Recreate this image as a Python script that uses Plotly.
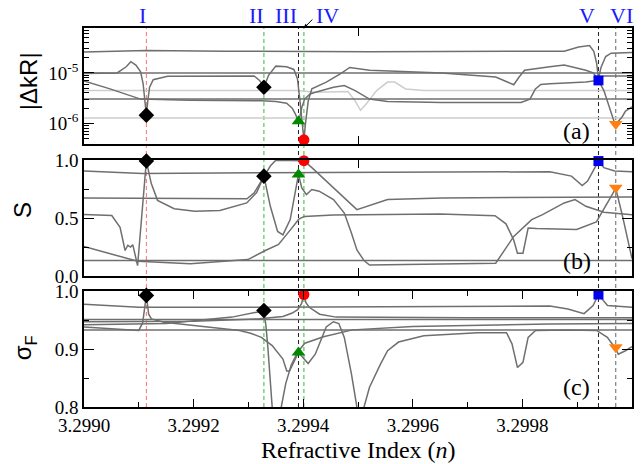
import plotly.graph_objects as go

# ---------------- data ----------------
N_RANGE = [3.2990, 3.3000]
N_MARK = [3.2991138, 3.2993283, 3.2993914, 3.2994013, 3.2999388, 3.2999704]
MARK_LABELS = ["I", "II", "III", "IV", "V", "VI"]
LABEL_N = [3.2991060, 3.2993140, 3.2993690, 3.2994450, 3.2999170, 3.2999810]

# panel (a) |dkR|
a1_n = [3.2990000, 3.2991132, 3.2992579, 3.2995210, 3.2998763, 3.2999026, 3.2999224, 3.2999303,
        3.2999355, 3.2999388, 3.2999434, 3.2999520, 3.2999618, 3.3000000]
a1_y = [2.58e-5, 2.79e-5, 2.70e-5, 2.62e-5, 2.70e-5, 3.27e-5, 3.47e-5, 2.67e-5,
        1.55e-5, 7.6e-6, 1.28e-5, 2.11e-5, 2.46e-5, 2.54e-5]
a2_y = 1.0e-5
a3_n = [3.2990000, 3.2990605, 3.2990770, 3.2990855, 3.2990947, 3.2991033, 3.2991079, 3.2991118,
        3.2991138, 3.2991164, 3.2991197, 3.2991263, 3.2991526, 3.2993105, 3.2993204, 3.2993283,
        3.2993368, 3.2993500, 3.2993697, 3.2993829, 3.2993895, 3.2993941, 3.2993987, 3.2994013,
        3.2994039, 3.2994092, 3.2994158, 3.2994421, 3.2994684, 3.2994849, 3.2995210, 3.2996526,
        3.2997513, 3.2997743, 3.2997842, 3.2997940, 3.2998040, 3.2998500, 3.2998763, 3.2999158,
        3.2999290, 3.2999388, 3.2999487, 3.3000000]
a3_y = [9.7e-6, 1.0e-5, 1.32e-5, 1.67e-5, 1.43e-5, 1.05e-5, 6.08e-6, 2.39e-6,
        1.45e-6, 2.79e-6, 5.2e-6, 7.33e-6, 8.56e-6, 8.69e-6, 7.1e-6, 5.2e-6,
        8.97e-6, 1.36e-5, 1.32e-5, 1.17e-5, 7.67e-6, 2.79e-6, 9.4e-7, 4.67e-7,
        9.4e-7, 2.79e-6, 4.81e-6, 6.57e-6, 9.7e-6, 1.28e-5, 1.13e-5, 1.0e-5,
        8.3e-6, 6.57e-6, 5.81e-6, 8.3e-6, 1.13e-5, 1.32e-5, 1.43e-5, 1.13e-5,
        1.0e-5, 7.4e-6, 8.69e-6, 8.69e-6]
a4_n = [3.2990000, 3.2990474, 3.2991033, 3.2991921, 3.2993237, 3.2993500, 3.2993697, 3.2993800,
        3.2993860, 3.2993914, 3.2993941, 3.2993974, 3.2994026, 3.2994125, 3.2994224, 3.2994553,
        3.2994750, 3.2994947, 3.2995210, 3.2995540, 3.2996526, 3.2997974, 3.2998138, 3.2998237,
        3.2998336, 3.2998500, 3.2999158, 3.2999388, 3.2999487, 3.2999586, 3.2999671, 3.2999704,
        3.2999750, 3.2999816, 3.2999882, 3.3000000]
a4_y = [6.89e-6, 4.81e-6, 3.02e-6, 2.88e-6, 2.79e-6, 2.7e-6, 2.5e-6, 2.0e-6,
        1.5e-6, 1.10e-6, 1.39e-6, 2.05e-6, 3.02e-6, 3.81e-6, 4.12e-6, 5.2e-6,
        5.62e-6, 4.45e-6, 3.02e-6, 2.71e-6, 2.58e-6, 2.58e-6, 3.02e-6, 4.81e-6,
        5.9e-6, 6.08e-6, 6.57e-6, 7.1e-6, 4.45e-6, 2.05e-6, 1.10e-6, 9.7e-7,
        1.10e-6, 1.32e-6, 1.75e-6, 2.11e-6]
a5_y = 3.02e-6
al1_n = [3.2990000, 3.2993895, 3.2994224, 3.2994553, 3.2994816, 3.2994947, 3.2995046, 3.2995145,
         3.2995340, 3.2995540, 3.2995670, 3.2995868, 3.2996200, 3.3000000]
al1_y = [4.45e-6, 4.45e-6, 4.12e-6, 4.25e-6, 4.25e-6, 2.79e-6, 1.81e-6, 2.39e-6,
         4.45e-6, 6.57e-6, 6.57e-6, 4.81e-6, 4.45e-6, 4.45e-6]
al2_y = 1.28e-6
a_mark = [1.45e-6, 5.2e-6, 1.1e-6, 4.7e-7, 7.1e-6, 9.7e-7]

# panel (b) S
bA_n = [3.2990000, 3.2991066, 3.2993237, 3.2998500, 3.2998895, 3.2999092, 3.2999190, 3.2999290,
        3.2999388, 3.2999487, 3.2999684, 3.3000000]
bA_s = [0.905, 0.884, 0.890, 0.899, 0.861, 0.780, 0.818, 0.905, 0.991, 0.934, 0.905, 0.899]
bB_n = [3.2990000, 3.2992974, 3.2993105, 3.2993283, 3.2993400, 3.2993500, 3.2994013, 3.2994158,
        3.2994553, 3.2994980, 3.2995540, 3.2996526, 3.3000000]
bB_s = [0.673, 0.665, 0.717, 0.861, 0.948, 0.998, 0.994, 0.934, 0.760, 0.572, 0.659, 0.673, 0.682]
bC_n = [3.2990000, 3.2990507, 3.2990658, 3.2990750, 3.2990800, 3.2990850, 3.2990890, 3.2990978,
        3.2991138, 3.2991228, 3.2991342, 3.2991645, 3.2992024, 3.2992479, 3.2992970, 3.2993150,
        3.2993283, 3.2993400, 3.2993533, 3.2993630, 3.2993763, 3.2993914, 3.2993974, 3.2994059,
        3.2994158, 3.2994290, 3.2994553, 3.2994750, 3.2994880, 3.2994980, 3.2995110, 3.2995210,
        3.2995868, 3.2997513, 3.2997842, 3.2998170, 3.2998368, 3.2998763, 3.2998960, 3.2999158,
        3.2999487, 3.3000000]
bC_s = [0.53, 0.522, 0.42, 0.22, 0.265, 0.25, 0.27, 0.09,
        0.991, 0.797, 0.652, 0.58, 0.559, 0.565, 0.630, 0.72,
        0.861, 0.601, 0.384, 0.355, 0.486, 0.876, 0.76, 0.702,
        0.746, 0.731, 0.659, 0.543, 0.37, 0.225, 0.133, 0.095,
        0.10, 0.11, 0.341, 0.486, 0.529, 0.63, 0.659, 0.601,
        0.549, 0.529]
bD_n = [3.2990000, 3.2990980, 3.2991940, 3.2992990, 3.2993310, 3.2993550, 3.2993770, 3.2993920,
        3.2994020, 3.2994550, 3.2996500, 3.2997500, 3.2997700, 3.2997840, 3.2997910, 3.2998010,
        3.2998105, 3.2998260, 3.2998990, 3.2999350, 3.2999704, 3.2999830, 3.3000000]
bD_s = [0.254, 0.127, 0.105, 0.142, 0.22, 0.272, 0.40, 0.49,
        0.514, 0.525, 0.535, 0.52, 0.45, 0.312, 0.197, 0.197,
        0.413, 0.409, 0.401, 0.467, 0.755, 0.51, 0.15]
bE_s = 0.133
b_mark = [0.991, 0.861, 0.876, 0.994, 0.991, 0.760]

# panel (c) sigma_F
cA_n = [3.2990000, 3.2991000, 3.2993237, 3.2998500, 3.2998830, 3.2999125, 3.2999290, 3.2999388,
        3.2999553, 3.3000000]
cA_s = [0.977, 0.972, 0.972, 0.974, 0.969, 0.961, 0.975, 0.994, 0.975, 0.972]
cB_n = [3.2990000, 3.2990737, 3.2991000, 3.2991070, 3.2991138, 3.2991180, 3.2991230, 3.2991460,
        3.2991920, 3.2992840, 3.2993040, 3.2993237, 3.2993434, 3.2993630, 3.2993700, 3.2993750,
        3.2993914, 3.2994090, 3.2994220, 3.2994420, 3.2994550, 3.2994650, 3.2994750, 3.2994880,
        3.2994980, 3.2995050, 3.2995110, 3.2995210, 3.2995410, 3.2995540, 3.2995740, 3.2996200,
        3.2997180, 3.2997710, 3.2997810, 3.2997910, 3.2998010, 3.2998105, 3.2998240, 3.2998830,
        3.2999355, 3.2999550, 3.2999704, 3.2999750, 3.2999880, 3.3000000]
cB_s = [0.938, 0.933, 0.932, 0.945, 0.9925, 0.960, 0.952, 0.946,
        0.9416, 0.9318, 0.9272, 0.9202, 0.9058, 0.8827, 0.862, 0.862,
        0.894, 0.875, 0.891, 0.938, 0.947, 0.944, 0.920, 0.857,
        0.80, 0.77, 0.80, 0.834, 0.874, 0.897, 0.912, 0.923,
        0.928, 0.928, 0.909, 0.868, 0.877, 0.920, 0.932, 0.933,
        0.932, 0.920, 0.900, 0.891, 0.897, 0.904]
cC_n = [3.2990000, 3.2991500, 3.2992700, 3.2993000, 3.2993180, 3.2993283, 3.2993320, 3.2993355,
        3.2993395, 3.2993434, 3.2993510, 3.2993600, 3.2993680, 3.2993780, 3.2993900, 3.2994030,
        3.2994370, 3.2994900, 3.2996000, 3.2998500, 3.3000000]
cC_s = [0.942, 0.944, 0.955, 0.960, 0.964, 0.9665, 0.940, 0.903,
        0.857, 0.80, 0.74, 0.80, 0.84, 0.872, 0.895, 0.910,
        0.921, 0.933, 0.939, 0.943, 0.944]
cD_n = [3.2990000, 3.2992000, 3.2993200, 3.2993630, 3.2993800, 3.2993900, 3.2993970, 3.2994013,
        3.2994050, 3.2994110, 3.2994300, 3.2994600, 3.2997000, 3.3000000]
cD_s = [0.947, 0.948, 0.952, 0.956, 0.962, 0.968, 0.978, 0.994,
        0.980, 0.972, 0.960, 0.955, 0.954, 0.954]
cF1_s = 0.951
cF2_s = 0.933
c_mark = [0.9925, 0.9665, 0.894, 0.994, 0.994, 0.903]

X_TICKS = [3.2990, 3.2992, 3.2994, 3.2996, 3.2998]
X_MINOR = [3.2991, 3.2993, 3.2995, 3.2997, 3.2999]

# ---------------- style ----------------
GRAY = "#6f6f6f"
LIGHT = "#cdcdcd"
VLINE_COLORS = ["#ff7070", "#33bb33", "#222222", "#33bb33", "#222222", "#666666"]
M_SYMBOL = ["diamond", "diamond", "triangle-up", "circle", "square", "triangle-down"]
M_COLOR = ["black", "black", "#008a00", "#ff0000", "#0000ee", "#ff8010"]
M_SIZE = [12, 12, 12, 11, 10, 12]
SERIF = "Liberation Serif"
SANS = "Liberation Sans"

fig = go.Figure()


def add_curve(xs, ys, ax, color=GRAY):
    fig.add_trace(go.Scatter(x=xs, y=ys, mode="lines", line=dict(color=color, width=1.5),
                             xaxis="x" + ax, yaxis="y" + ax, showlegend=False, hoverinfo="skip"))


def add_const(v, ax, color=GRAY):
    add_curve(N_RANGE, [v, v], ax, color)


# panel a  (axis suffix "")
add_const(al2_y, "", LIGHT)
add_curve(al1_n, al1_y, "", LIGHT)
add_const(a5_y, "")
add_const(a2_y, "")
add_curve(a1_n, a1_y, "")
add_curve(a3_n, a3_y, "")
add_curve(a4_n, a4_y, "")
# panel b
add_const(bE_s, "2")
add_curve(bA_n, bA_s, "2")
add_curve(bB_n, bB_s, "2")
add_curve(bC_n, bC_s, "2")
add_curve(bD_n, bD_s, "2")
# panel c
add_const(cF1_s, "3")
add_const(cF2_s, "3")
add_curve(cA_n, cA_s, "3")
add_curve(cB_n, cB_s, "3")
add_curve(cC_n, cC_s, "3")
add_curve(cD_n, cD_s, "3")

for ax, vals in (("", a_mark), ("2", b_mark), ("3", c_mark)):
    for i in range(6):
        fig.add_trace(go.Scatter(x=[N_MARK[i]], y=[vals[i]], mode="markers",
                                 marker=dict(symbol=M_SYMBOL[i], color=M_COLOR[i], size=M_SIZE[i],
                                             line=dict(width=0)),
                                 cliponaxis=False, xaxis="x" + ax, yaxis="y" + ax,
                                 showlegend=False, hoverinfo="skip"))

shapes = []
for i in range(6):
    shapes.append(dict(type="line", xref="x", yref="paper", x0=N_MARK[i], x1=N_MARK[i], y0=0, y1=1,
                       line=dict(color=VLINE_COLORS[i], width=1, dash="4px,3px"), layer="below"))

ann = []
for i in range(6):
    ann.append(dict(x=LABEL_N[i], y=1.034, xref="x", yref="paper", text=MARK_LABELS[i],
                    showarrow=False, font=dict(family=SERIF, size=22, color="#1a1aff"),
                    xanchor="center", yanchor="middle"))
ann.append(dict(x=N_MARK[3], y=1.0, xref="x", yref="paper", ax=10, ay=-10, text="",
                showarrow=True, arrowhead=2, arrowsize=0.8, arrowwidth=1, arrowcolor="black"))
for txt, yy in (("(a)", 0.729), ("(b)", 0.385), ("(c)", 0.053)):
    ann.append(dict(x=3.2998990, y=yy, xref="x", yref="paper", text=txt, showarrow=False,
                    font=dict(family=SERIF, size=24, color="black"), xanchor="center", yanchor="middle"))
for txt, yy, xx in (("|ΔkR|", 0.86, -0.102), ("S", 0.52, -0.111), ("σ<sub>F</sub>", 0.156, -0.107)):
    ann.append(dict(x=xx, y=yy, xref="paper", yref="paper", text=txt, showarrow=False, textangle=-90,
                    font=dict(family=SANS, size=24, color="black"), xanchor="center", yanchor="middle"))
ann.append(dict(x=0.5, y=-0.113, xref="paper", yref="paper", text="Refractive Index (<i>n</i>)",
                showarrow=False, font=dict(family=SERIF, size=24, color="black"),
                xanchor="center", yanchor="middle"))

axis_base = dict(showline=True, linecolor="black", linewidth=1.6, mirror="ticks", ticks="inside",
                 tickcolor="black", tickwidth=1.4, showgrid=False, zeroline=False,
                 tickfont=dict(family=SERIF, size=19, color="black"))

xa_hidden = dict(axis_base, range=N_RANGE, tickmode="array", tickvals=[3.2995], showticklabels=False,
                 ticklen=8)
xa_c = dict(axis_base, range=N_RANGE, tickmode="array", tickvals=X_TICKS,
            ticktext=["%.4f" % v for v in X_TICKS], ticklen=8,
            minor=dict(tickmode="array", tickvals=X_MINOR, ticks="inside", ticklen=5, tickcolor="black"))

LOG_MINOR = [k * 10.0 ** e for e in (-7, -6, -5) for k in range(2, 10)]
ya_a = dict(axis_base, type="log", range=[-6.41, -4.11], domain=[0.694, 1.0], tickmode="array",
            tickvals=[1e-6, 1e-5], ticktext=["10<sup>-6</sup>", "10<sup>-5</sup>"], ticklen=10,
            minor=dict(tickmode="array", tickvals=LOG_MINOR, ticks="inside", ticklen=5, tickcolor="black"))
ya_b = dict(axis_base, range=[0, 1], domain=[0.3456, 0.6517], tickmode="array",
            tickvals=[0, 0.5, 1.0], ticktext=["0.0", "0.5", "1.0"], ticklen=10,
            minor=dict(tickmode="array", tickvals=[0.25, 0.75], ticks="inside", ticklen=5, tickcolor="black"))
ya_c = dict(axis_base, range=[0.8, 1.0], domain=[0.0, 0.306], tickmode="array",
            tickvals=[0.8, 0.9, 1.0], ticktext=["0.8", "0.9", "1.0"], ticklen=10,
            minor=dict(tickmode="array", tickvals=[0.85, 0.95], ticks="inside", ticklen=5, tickcolor="black"))

fig.update_layout(
    width=644, height=464,
    margin=dict(l=84, r=10, t=28, b=57),
    paper_bgcolor="white", plot_bgcolor="white",
    font=dict(family=SERIF, size=20, color="black"),
    xaxis=dict(xa_hidden, anchor="y"),
    xaxis2=dict(xa_hidden, anchor="y2", matches="x"),
    xaxis3=dict(xa_c, anchor="y3", matches="x"),
    yaxis=dict(ya_a, anchor="x"),
    yaxis2=dict(ya_b, anchor="x2"),
    yaxis3=dict(ya_c, anchor="x3"),
    shapes=shapes,
    annotations=ann,
    showlegend=False,
)

fig.write_html("out.html", config={"displayModeBar": False},
               post_script="document.body.style.margin='0';document.body.style.overflow='hidden';")
